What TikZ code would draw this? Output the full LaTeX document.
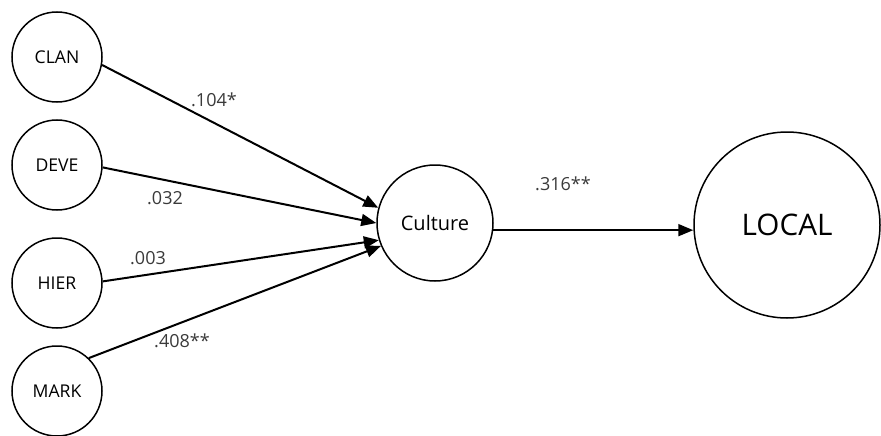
\documentclass[tikz,border=0pt]{standalone}
\usepackage{fontspec}
\setmainfont{Open Sans}
\usetikzlibrary{arrows.meta}
\definecolor{lbl}{HTML}{3A3A3A}
\tikzset{
  var/.style={circle,draw=black,line width=1.5pt,inner sep=0pt,font=\fontsize{17.6}{19}\selectfont},
  path/.style={line width=2pt,-{Triangle[length=15pt,width=12pt]}},
  coef/.style={text=lbl,font=\fontsize{18}{20}\selectfont,inner sep=0pt}
}
\begin{document}
\begin{tikzpicture}[x=1pt,y=-1pt]
\useasboundingbox (0,0) rectangle (881,436);
\node[var,minimum size=90pt] (CLAN) at (57,57) {CLAN};
\node[var,minimum size=90pt] (DEVE) at (57,165) {DEVE};
\node[var,minimum size=90pt] (HIER) at (57,283) {HIER};
\node[var,minimum size=90pt] (MARK) at (57,391) {MARK};
\node[var,minimum size=116pt,font=\fontsize{20}{22}\selectfont] (Culture) at (435,223) {Culture};
\node[var,minimum size=186pt,font=\fontsize{29.7}{32}\selectfont] (LOCAL) at (787,225) {LOCAL};
\draw[path] (CLAN.-10) -- (Culture.165);
\draw[path] (DEVE.-3) -- (Culture.180);
\draw[path] (HIER.2) -- (Culture.197);
\draw[path] (MARK.46) -- (Culture.203);
\draw[path] (Culture.-7) -- (Culture.-7 -| LOCAL.west);
\node[coef] (l1) at (214,100) {.104*};
\node[coef] (l2) at (165,198) {.032};
\node[coef] (l3) at (148,258) {.003};
\node[coef] (l4) at (182,341) {.408**};
\node[coef] (l5) at (563,184) {.316**};
\end{tikzpicture}
\end{document}
